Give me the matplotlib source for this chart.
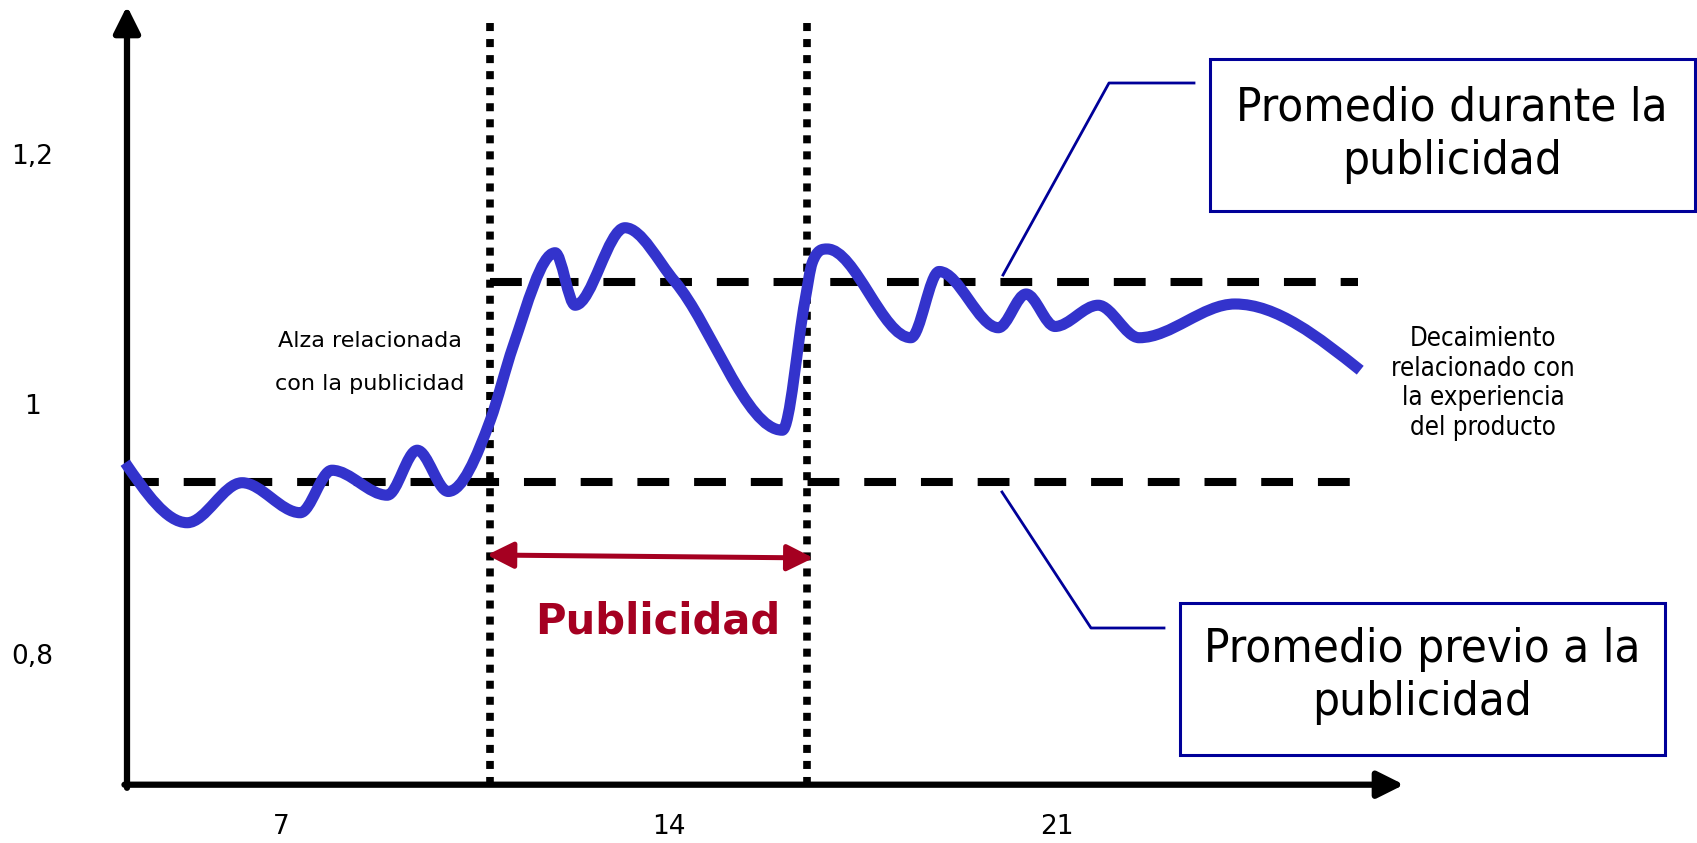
import matplotlib
matplotlib.use("Agg")
import matplotlib.pyplot as plt
import numpy as np
from matplotlib.path import Path
from matplotlib.patches import PathPatch, Rectangle
from matplotlib.lines import Line2D

# ---- data -------------------------------------------------------------
days = [4.18, 5.30, 6.29, 7.34, 7.91, 8.91, 9.45, 10.01, 10.77, 11.18,
        11.94, 12.30, 13.20, 14.10, 16.04,
        16.45, 16.58, 16.85, 18.36, 18.87, 19.94, 20.44, 20.96, 21.74,
        22.48, 24.21, 26.47]
sales = [0.953, 0.905, 0.937, 0.913, 0.947, 0.927, 0.963, 0.930, 0.987, 1.046,
         1.121, 1.079, 1.141, 1.098, 0.979,
         1.083, 1.113, 1.124, 1.053, 1.106, 1.061, 1.088, 1.062, 1.079,
         1.053, 1.080, 1.027]

avg_before = 0.9376
avg_during = 1.0976
campaign_start = 10.77
campaign_end = 16.49
line_end = 26.43

xtick_vals = [7, 14, 21]
xtick_labels = ["7", "14", "21"]
ytick_vals = [0.8, 1.0, 1.2]
ytick_labels = ["0,8", "1", "1,2"]

# ---- figure -----------------------------------------------------------
W, H = 1697, 843
fig = plt.figure(figsize=(W / 100, H / 100), dpi=100)
ax = fig.add_axes([127 / W, 1 - 784.7 / H, (1404 - 127) / W, (784.7 - 6) / H])
ax.set_xlim(4.213, 27.26)
ax.set_ylim(0.6954, 1.3184)
for s in ax.spines.values():
    s.set_visible(False)

ax.set_xticks(xtick_vals, xtick_labels)
ax.set_yticks(ytick_vals, ytick_labels)
ax.tick_params(axis="both", length=0, labelsize=19)
ax.tick_params(axis="x", pad=21)
ax.tick_params(axis="y", pad=68)
for lab in ax.get_yticklabels():
    lab.set_horizontalalignment("center")

# axes drawn as arrows
arrow_kw = dict(arrowstyle="-|>", lw=4.5, color="black", mutation_scale=40,
                shrinkA=0, shrinkB=0)
ax.annotate("", xy=(0, 1), xytext=(0, -0.004), xycoords="axes fraction",
            arrowprops=arrow_kw, annotation_clip=False)
ax.annotate("", xy=(1, 0), xytext=(-0.002, 0), xycoords="axes fraction",
            arrowprops=arrow_kw, annotation_clip=False)

# campaign boundaries
for xv in (campaign_start, campaign_end):
    ax.plot([xv, xv], [0.6954, 1.3115], color="black", lw=5.5,
            linestyle=(0, (1.05, 1.05)), dash_capstyle="butt", clip_on=False)

# averages before / during the campaign
dash = (0, (3.95, 3.09))
ax.plot([4.213, line_end], [avg_before, avg_before], color="black", lw=5.8,
        linestyle=dash, clip_on=False)
ax.plot([campaign_start, line_end], [avg_during, avg_during], color="black",
        lw=5.8, linestyle=dash, clip_on=False)

# smooth sales curve: cubic Hermite segments drawn as Bezier curves
x = np.asarray(days, float)
y = np.asarray(sales, float)
h = np.diff(x)
d = np.diff(y) / h
m = np.zeros_like(y)
for k in range(1, len(y) - 1):
    if d[k - 1] * d[k] > 0:
        c = (h[k] * d[k - 1] + h[k - 1] * d[k]) / (h[k - 1] + h[k])
        lim = 3 * min(abs(d[k - 1]), abs(d[k]))
        m[k] = np.sign(c) * min(abs(c), lim)
m[0] = 1.5 * d[0]
m[-1] = 1.5 * d[-1]
verts = [(x[0], y[0])]
codes = [Path.MOVETO]
for k in range(len(x) - 1):
    verts += [(x[k] + h[k] / 3, y[k] + m[k] * h[k] / 3),
              (x[k + 1] - h[k] / 3, y[k + 1] - m[k + 1] * h[k] / 3),
              (x[k + 1], y[k + 1])]
    codes += [Path.CURVE4] * 3
curve = PathPatch(Path(verts, codes), facecolor="none", edgecolor="#3333CC",
                  lw=8, capstyle="butt", joinstyle="round", clip_on=False,
                  zorder=3)
ax.add_patch(curve)

# campaign duration arrow
ax.annotate("", xy=(16.60, 0.8768), xytext=(10.71, 0.8792),
            arrowprops=dict(arrowstyle="<|-|>", lw=3.6, color="#A50021",
                            mutation_scale=40, shrinkA=0, shrinkB=0))
ax.text(13.80, 0.8256, "Publicidad", color="#A50021", fontsize=30,
        fontweight="bold", ha="center", va="center")

# notes
ax.text(8.60, 1.0332, "Alza relacionada\ncon la publicidad", fontsize=16,
        ha="center", va="center", linespacing=2.4)
ax.text(28.69, 1.0164, "Decaimiento\nrelacionado con\nla experiencia\ndel producto",
        fontsize=18.5, fontstretch="condensed", ha="center", va="center",
        linespacing=1.18)

# callout boxes with connectors
box_color = "#000099"


def fx(px):
    return px / W


def fy(py):
    return 1 - py / H


for pts in ([(1003, 275), (1109, 83), (1194, 83)],
            [(1002, 492), (1091, 628), (1164, 628)]):
    fig.add_artist(Line2D([fx(p[0]) for p in pts], [fy(p[1]) for p in pts],
                          color=box_color, lw=2))

fig.add_artist(Rectangle((fx(1210), fy(211)), 485 / W, 152 / H, fill=False,
                         edgecolor=box_color, lw=2.2))
fig.add_artist(Rectangle((fx(1180), fy(755)), 485 / W, 152 / H, fill=False,
                         edgecolor=box_color, lw=2.2))
fig.text(fx(1452), fy(135), "Promedio durante la\npublicidad", fontsize=34,
         fontstretch="condensed", ha="center", va="center", linespacing=1.24)
fig.text(fx(1422), fy(676), "Promedio previo a la\npublicidad", fontsize=34,
         fontstretch="condensed", ha="center", va="center", linespacing=1.24)

fig.savefig("out.png", dpi=100)
